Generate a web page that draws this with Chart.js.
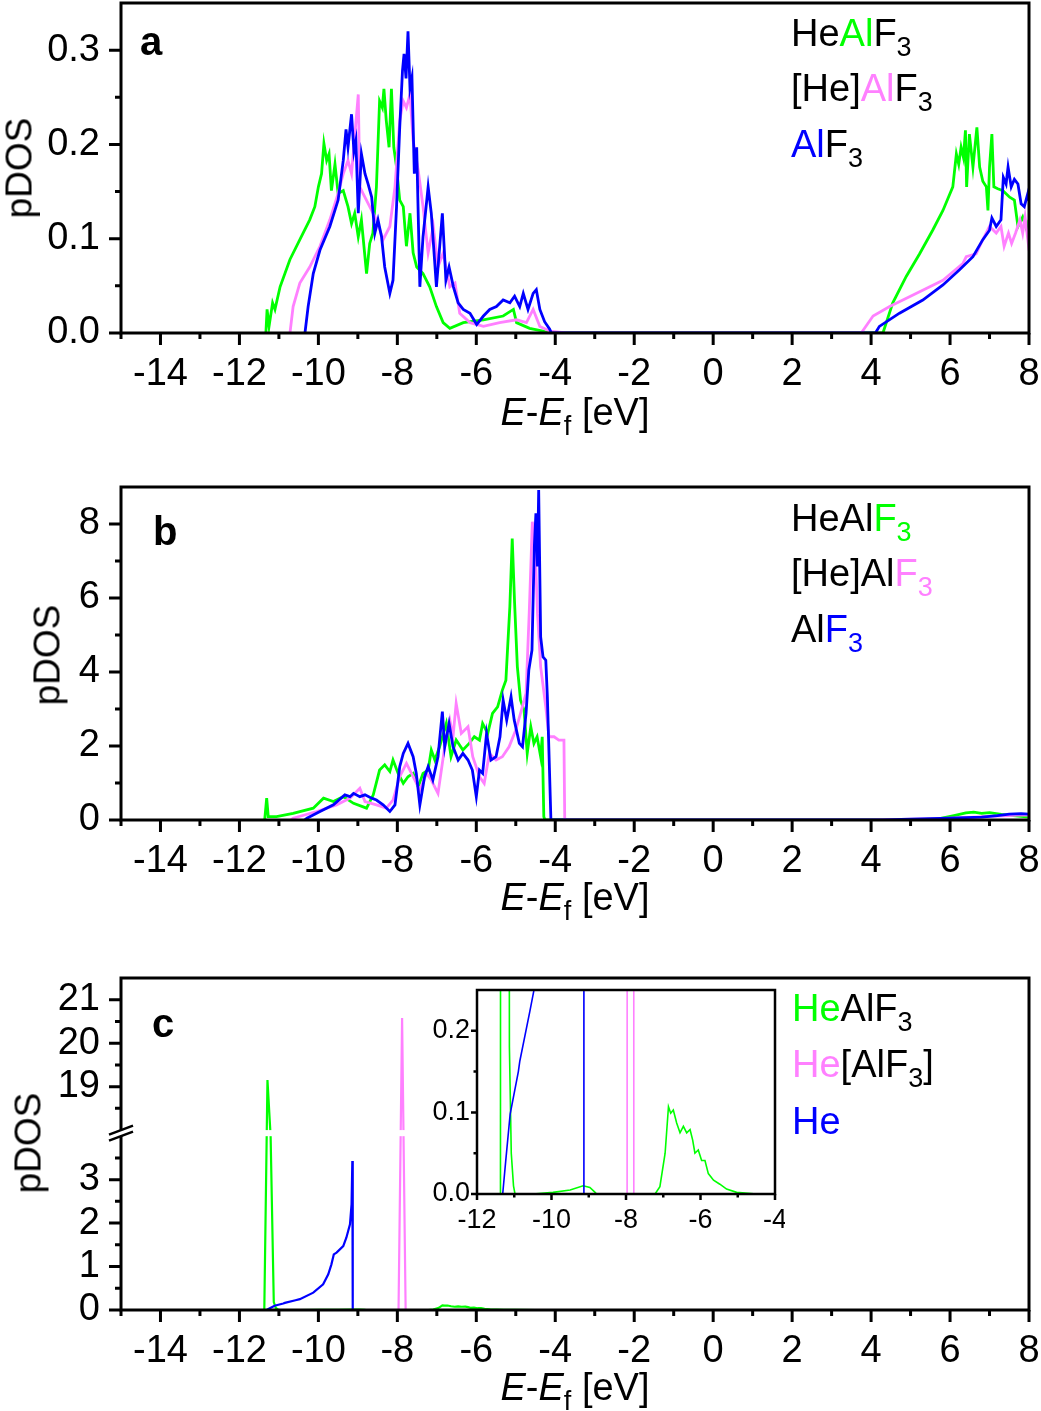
<!DOCTYPE html>
<html>
<head>
<meta charset="utf-8">
<script src="https://cdn.jsdelivr.net/npm/chart.js@4.4.1/dist/chart.umd.min.js"></script>
<style>
  html, body { margin: 0; padding: 0; background: #fff; }
  body { width: 1041px; height: 1411px; position: relative; overflow: hidden;
         font-family: 'Liberation Sans', Arial, sans-serif; color: #000; }
  canvas { position: absolute; }
  .leg { position: absolute; white-space: nowrap; font-size: 38px; line-height: 38px; }
  .leg sub, .xtitle sub { font-size: 27px; vertical-align: baseline; position: relative; top: 10px; }
  .xtitle { position: absolute; left: 575px; transform: translateX(-50%); white-space: nowrap;
            font-size: 38px; line-height: 38px; }
  .ytitle { position: absolute; white-space: nowrap; font-size: 37px; line-height: 37px;
            transform: translate(-50%, -50%) rotate(-90deg); }
  .letter { position: absolute; font-weight: bold; font-size: 40px; line-height: 40px; }
</style>
</head>
<body>
<canvas id="chart-a" width="1041" height="440" style="left:0;top:0"></canvas>
<canvas id="chart-b" width="1041" height="440" style="left:0;top:485px"></canvas>
<canvas id="chart-c" width="1041" height="436" style="left:0;top:975px"></canvas>
<canvas id="chart-inset" width="365" height="255" style="left:420px;top:985px"></canvas>

<div class="letter" style="left:140px;top:21px">a</div>
<div class="letter" style="left:153px;top:511px">b</div>
<div class="letter" style="left:152px;top:1003px">c</div>

<div class="ytitle" style="left:19px;top:168px">pDOS</div>
<div class="ytitle" style="left:47px;top:655px">pDOS</div>
<div class="ytitle" style="left:28px;top:1143px">pDOS</div>

<div class="xtitle" style="top:393px"><i>E</i>-<i>E</i><sub>f</sub> [eV]</div>
<div class="xtitle" style="top:878px"><i>E</i>-<i>E</i><sub>f</sub> [eV]</div>
<div class="xtitle" style="top:1368px"><i>E</i>-<i>E</i><sub>f</sub> [eV]</div>

<div class="leg" style="left:791px;top:14px">He<span style="color:#00ff00">Al</span>F<sub>3</sub></div>
<div class="leg" style="left:791px;top:69px">[He]<span style="color:#ff80ff">Al</span>F<sub>3</sub></div>
<div class="leg" style="left:791px;top:125px"><span style="color:#0000ff">Al</span>F<sub>3</sub></div>

<div class="leg" style="left:791px;top:499px">HeAl<span style="color:#00ff00">F<sub>3</sub></span></div>
<div class="leg" style="left:791px;top:554px">[He]Al<span style="color:#ff80ff">F<sub>3</sub></span></div>
<div class="leg" style="left:791px;top:610px">Al<span style="color:#0000ff">F<sub>3</sub></span></div>

<div class="leg" style="left:792px;top:989px"><span style="color:#00ff00">He</span>AlF<sub>3</sub></div>
<div class="leg" style="left:792px;top:1045px"><span style="color:#ff80ff">He</span>[AlF<sub>3</sub>]</div>
<div class="leg" style="left:792px;top:1102px"><span style="color:#0000ff">He</span></div>

<script>
// Couleurs des courbes
const green = '#00ff00';
const pink = '#ff80ff';
const blue = '#0000ff';

// Graduations
const xTicks = [-14, -12, -10, -8, -6, -4, -2, 0, 2, 4, 6, 8];
const xMinor = [-15, -13, -11, -9, -7, -5, -3, -1, 1, 3, 5, 7];
const aYTicks = [0, 0.1, 0.2, 0.3];
const aYLabels = ['0.0', '0.1', '0.2', '0.3'];
const aYMinor = [0.05, 0.15, 0.25];
const bYTicks = [0, 2, 4, 6, 8];
const bYLabels = ['0', '2', '4', '6', '8'];
const bYMinor = [1, 3, 5, 7];
const cYTicks = [0, 1, 2, 3, 19, 20, 21];
const cYLabels = ['0', '1', '2', '3', '19', '20', '21'];
const cYMinor = [0.5, 1.5, 2.5, 3.5, 18.5, 19.5, 20.5];
const insetXTicks = [-12, -10, -8, -6, -4];
const insetXMinor = [-11, -9, -7, -5];
const insetYTicks = [0, 0.1, 0.2];
const insetYLabels = ['0.0', '0.1', '0.2'];
const insetYMinor = [0.05, 0.15];

// Panneau a : pDOS de Al
const aGreenX = [-11.33, -11.30, -11.25, -11.16, -11.10, -10.97, -10.72, -10.47, -10.22, -10.09, -10.00, -9.92, -9.86, -9.79, -9.73, -9.67, -9.58, -9.50, -9.37, -9.25, -9.16, -9.08, -8.99, -8.91, -8.78, -8.70, -8.62, -8.53, -8.45, -8.38, -8.34, -8.28, -8.21, -8.15, -8.09, -8.02, -7.94, -7.85, -7.77, -7.68, -7.60, -7.51, -7.35, -7.18, -7.01, -6.84, -6.67, -6.33, -5.82, -5.32, -5.06, -4.98, -4.65, -4.31, -4.14, 4.30, 4.55, 4.89, 5.23, 5.56, 5.82, 6.07, 6.16, 6.22, 6.28, 6.34, 6.39, 6.42, 6.49, 6.58, 6.68, 6.75, 6.83, 6.92, 6.96, 7.00, 7.06, 7.11, 7.21, 7.34, 7.51, 7.63, 7.72, 7.84, 7.97, 8.0];
const aGreenY = [0, 0.025, 0.007, 0.032, 0.025, 0.049, 0.078, 0.099, 0.120, 0.134, 0.155, 0.169, 0.201, 0.183, 0.190, 0.151, 0.179, 0.148, 0.151, 0.134, 0.116, 0.127, 0.102, 0.120, 0.063, 0.095, 0.106, 0.155, 0.246, 0.239, 0.259, 0.225, 0.197, 0.259, 0.197, 0.176, 0.141, 0.134, 0.092, 0.127, 0.085, 0.070, 0.063, 0.049, 0.028, 0.011, 0.005, 0.011, 0.014, 0.018, 0.025, 0.011, 0.005, 0.002, 0, 0, 0.032, 0.060, 0.084, 0.109, 0.130, 0.155, 0.190, 0.179, 0.197, 0.186, 0.215, 0.155, 0.211, 0.176, 0.218, 0.176, 0.161, 0.155, 0.130, 0.176, 0.211, 0.155, 0.153, 0.151, 0.144, 0.141, 0.113, 0.123, 0.106, 0.120];
const aPinkX = [-10.72, -10.64, -10.47, -10.22, -9.96, -9.71, -9.50, -9.37, -9.25, -9.16, -9.08, -8.99, -8.95, -8.87, -8.70, -8.53, -8.36, -8.19, -8.06, -7.94, -7.85, -7.77, -7.68, -7.60, -7.47, -7.35, -7.22, -7.09, -6.97, -6.84, -6.67, -6.54, -6.42, -6.16, -5.82, -5.41, -4.98, -4.73, -4.56, -4.39, -4.14, -3.72, 3.75, 4.05, 4.47, 5.14, 5.82, 6.33, 6.41, 6.66, 6.83, 7.00, 7.17, 7.29, 7.37, 7.48, 7.56, 7.66, 7.77, 7.84, 7.90, 7.97, 8.0];
const aPinkY = [0, 0.028, 0.053, 0.070, 0.092, 0.120, 0.148, 0.169, 0.183, 0.169, 0.208, 0.253, 0.155, 0.148, 0.134, 0.120, 0.099, 0.113, 0.155, 0.225, 0.246, 0.239, 0.253, 0.204, 0.172, 0.134, 0.085, 0.113, 0.070, 0.085, 0.049, 0.053, 0.021, 0.011, 0.007, 0.011, 0.014, 0.011, 0.025, 0.007, 0.002, 0, 0, 0.018, 0.028, 0.042, 0.056, 0.074, 0.081, 0.084, 0.099, 0.113, 0.106, 0.113, 0.092, 0.106, 0.095, 0.106, 0.120, 0.106, 0.123, 0.099, 0.110];
const aBlueX = [-10.34, -10.26, -10.13, -9.96, -9.71, -9.50, -9.37, -9.30, -9.25, -9.16, -9.10, -9.05, -8.99, -8.91, -8.82, -8.74, -8.65, -8.57, -8.49, -8.40, -8.32, -8.19, -8.11, -8.02, -7.94, -7.87, -7.83, -7.78, -7.73, -7.68, -7.63, -7.57, -7.51, -7.43, -7.35, -7.22, -7.14, -7.01, -6.86, -6.77, -6.69, -6.58, -6.46, -6.33, -6.16, -5.99, -5.82, -5.66, -5.49, -5.32, -5.15, -5.03, -4.90, -4.81, -4.69, -4.56, -4.48, -4.39, -4.27, -4.14, -4.10, 4.11, 4.21, 4.72, 5.31, 5.82, 6.24, 6.58, 6.83, 7.00, 7.06, 7.17, 7.29, 7.35, 7.42, 7.47, 7.55, 7.63, 7.72, 7.80, 7.88, 7.97, 8.0];
const aBlueY = [0, 0.028, 0.063, 0.088, 0.113, 0.141, 0.183, 0.216, 0.197, 0.232, 0.193, 0.204, 0.127, 0.190, 0.169, 0.158, 0.144, 0.106, 0.120, 0.102, 0.070, 0.042, 0.056, 0.134, 0.218, 0.278, 0.296, 0.270, 0.320, 0.260, 0.271, 0.169, 0.197, 0.049, 0.102, 0.155, 0.127, 0.049, 0.127, 0.056, 0.070, 0.049, 0.032, 0.025, 0.021, 0.009, 0.018, 0.025, 0.028, 0.035, 0.032, 0.039, 0.028, 0.042, 0.025, 0.042, 0.046, 0.025, 0.012, 0.004, 0, 0, 0.007, 0.021, 0.035, 0.051, 0.067, 0.081, 0.099, 0.109, 0.122, 0.113, 0.120, 0.165, 0.158, 0.176, 0.155, 0.163, 0.158, 0.137, 0.134, 0.148, 0.140];

// Panneau b : pDOS de F
const bGreenX = [-11.36, -11.31, -11.27, -11.06, -10.64, -10.13, -9.87, -9.62, -9.37, -9.11, -8.78, -8.61, -8.45, -8.32, -8.19, -8.11, -7.98, -7.85, -7.73, -7.60, -7.47, -7.35, -7.22, -7.14, -7.05, -6.93, -6.76, -6.64, -6.51, -6.34, -6.18, -6.05, -5.92, -5.84, -5.71, -5.59, -5.46, -5.34, -5.25, -5.21, -5.15, -5.09, -5.03, -4.96, -4.88, -4.79, -4.71, -4.62, -4.54, -4.46, -4.37, -4.33, -4.29, -4.26, 5.00, 5.70, 6.10, 6.40, 6.60, 6.80, 7.00, 7.30, 7.60, 8.00];
const bGreenY = [0, 0.59, 0.09, 0.09, 0.18, 0.32, 0.59, 0.50, 0.63, 0.45, 0.32, 0.68, 1.35, 1.49, 1.31, 1.62, 1.26, 0.99, 1.17, 1.26, 0.90, 1.26, 1.35, 1.89, 1.62, 1.98, 2.61, 1.71, 2.16, 1.89, 2.07, 2.25, 2.16, 2.61, 2.34, 2.88, 3.06, 3.51, 3.78, 4.59, 5.77, 7.61, 5.86, 4.14, 3.24, 2.97, 1.80, 2.52, 2.07, 2.25, 1.71, 2.25, 0.09, 0, 0, 0.03, 0.12, 0.19, 0.21, 0.18, 0.20, 0.15, 0.12, 0.08];
const bPinkX = [-10.70, -10.64, -10.04, -9.54, -9.20, -8.95, -8.82, -8.53, -8.28, -8.11, -7.94, -7.77, -7.60, -7.43, -7.26, -7.14, -6.97, -6.80, -6.67, -6.59, -6.51, -6.38, -6.21, -6.09, -5.92, -5.80, -5.67, -5.50, -5.34, -5.17, -5.00, -4.88, -4.74, -4.66, -4.58, -4.51, -4.45, -4.37, -4.24, -4.16, -4.03, -3.91, -3.78, -3.76, 4.00, 5.50, 6.50, 7.00, 7.50, 7.80, 8.00];
const bPinkY = [0, 0.05, 0.23, 0.41, 0.59, 0.86, 0.50, 0.41, 0.32, 0.54, 1.17, 1.53, 1.17, 0.81, 1.26, 1.08, 0.72, 1.98, 2.70, 2.25, 3.15, 2.34, 2.52, 1.71, 1.17, 0.99, 1.80, 1.62, 1.71, 1.98, 2.43, 2.88, 3.42, 5.59, 8.06, 7.39, 5.59, 4.14, 3.06, 2.25, 2.25, 2.16, 2.16, 0, 0, 0.03, 0.07, 0.10, 0.12, 0.14, 0.13];
const bBlueX = [-10.35, -10.29, -9.96, -9.62, -9.33, -9.20, -9.11, -8.95, -8.82, -8.65, -8.53, -8.36, -8.19, -8.06, -7.94, -7.85, -7.73, -7.60, -7.52, -7.43, -7.31, -7.22, -7.10, -6.97, -6.86, -6.80, -6.69, -6.59, -6.46, -6.34, -6.21, -6.10, -6.00, -5.92, -5.84, -5.74, -5.63, -5.50, -5.40, -5.32, -5.23, -5.12, -5.04, -4.91, -4.83, -4.74, -4.67, -4.59, -4.53, -4.49, -4.45, -4.42, -4.37, -4.31, -4.24, -4.20, -4.11, 4.30, 5.00, 6.00, 6.80, 7.20, 7.50, 7.80, 8.00];
const bBlueY = [0, 0.05, 0.23, 0.41, 0.68, 0.63, 0.72, 0.63, 0.68, 0.59, 0.54, 0.41, 0.23, 0.41, 1.44, 1.80, 2.07, 1.71, 1.26, 0.41, 1.17, 1.44, 1.08, 1.71, 2.93, 1.98, 2.61, 1.98, 1.62, 1.80, 1.62, 1.35, 0.63, 1.35, 1.26, 2.34, 1.62, 1.71, 2.25, 3.24, 2.70, 3.33, 2.70, 2.07, 1.98, 2.88, 4.05, 4.59, 7.39, 8.29, 6.85, 8.92, 4.95, 4.41, 4.32, 3.33, 0, 0, 0.02, 0.05, 0.08, 0.12, 0.16, 0.17, 0.16];

// Panneau c : pDOS de He
const cGreenX = [-11.37, -11.29, -11.21, -11.13, -11.08, -11.02, -10.98, -10.49, -9.96, -9.50, -9.15, -8.97, -8.83, -8.79, -7.22, -7.09, -6.95, -6.86, -6.80, -6.73, -6.64, -6.55, -6.46, -6.37, -6.28, -6.21, -6.15, -6.06, -5.97, -5.88, -5.79, -5.65, -5.48, -5.30, -5.03, -4.49, 8.00];
const cGreenY = [0, 19.15, 4.0, 0.18, 0.05, 0.01, 0, 0, 0.002, 0.005, 0.010, 0.008, 0.002, 0, 0, 0.009, 0.050, 0.107, 0.099, 0.103, 0.087, 0.075, 0.083, 0.075, 0.079, 0.066, 0.050, 0.054, 0.041, 0.041, 0.025, 0.017, 0.012, 0.006, 0.002, 0, 0];
const cPinkX = [-7.97, -7.88, -7.79];
const cPinkY = [0, 20.58, 0];
const cBlueX = [-11.31, -11.23, -11.11, -10.89, -10.85, -10.58, -10.47, -10.13, -9.88, -9.75, -9.67, -9.61, -9.54, -9.37, -9.29, -9.20, -9.16, -9.14, -9.13];
const cBlueY = [0, 0.04, 0.098, 0.15, 0.163, 0.224, 0.25, 0.40, 0.59, 0.82, 1.05, 1.28, 1.32, 1.47, 1.67, 1.97, 2.43, 3.43, 0];

// Axe coupé du panneau c : 0-4 puis 18-21.5
const breakLow = 4;
const breakHigh = 18;
const breakGap = 0.14;
function brk(v) {
    if (v <= breakLow) return v;
    if (v >= breakHigh) return v - breakHigh + breakLow + breakGap;
    return breakLow + (v - breakLow) / (breakHigh - breakLow) * breakGap;
}

Chart.defaults.font.family = "'Liberation Sans', Arial, sans-serif";
Chart.defaults.color = '#000';

// Construction d'une courbe à partir des tableaux x / y
function curve(xs, ys, color, width, map) {
    return {
        data: xs.map((x, i) => ({ x: x, y: map ? map(ys[i]) : ys[i] })),
        borderColor: color,
        borderWidth: width,
        pointRadius: 0,
        tension: 0,
        fill: false
    };
}

// Cadre, graduations vers l'extérieur et marque de coupure
function frame(o) {
    return {
        id: 'frame',
        afterDraw(chart) {
            const ctx = chart.ctx;
            const a = chart.chartArea;
            const x = chart.scales.x;
            const y = chart.scales.y;
            ctx.save();
            if (o.brk) {
                const yLo = y.getPixelForValue(breakLow);
                const yHi = y.getPixelForValue(breakLow + breakGap);
                ctx.fillStyle = '#fff';
                ctx.fillRect(a.left, yHi, a.right - a.left, yLo - yHi);
            }
            ctx.strokeStyle = '#000';
            ctx.lineWidth = o.width;
            ctx.beginPath();
            o.xMajor.forEach(v => { const p = x.getPixelForValue(v); ctx.moveTo(p, a.bottom); ctx.lineTo(p, a.bottom + o.major); });
            o.xMinor.forEach(v => { const p = x.getPixelForValue(v); ctx.moveTo(p, a.bottom); ctx.lineTo(p, a.bottom + o.minor); });
            o.yMajor.forEach(v => { const p = y.getPixelForValue(v); ctx.moveTo(a.left, p); ctx.lineTo(a.left - o.major, p); });
            o.yMinor.forEach(v => { const p = y.getPixelForValue(v); ctx.moveTo(a.left, p); ctx.lineTo(a.left - o.minor, p); });
            ctx.stroke();
            ctx.strokeRect(a.left, a.top, a.right - a.left, a.bottom - a.top);
            if (o.brk) {
                const yLo = y.getPixelForValue(breakLow);
                const yHi = y.getPixelForValue(breakLow + breakGap);
                const dx = 12, dy = 4.5;
                ctx.fillStyle = '#fff';
                ctx.beginPath();
                ctx.moveTo(a.left - dx, yHi + dy);
                ctx.lineTo(a.left + dx, yHi - dy);
                ctx.lineTo(a.left + dx, yLo - dy);
                ctx.lineTo(a.left - dx, yLo + dy);
                ctx.closePath();
                ctx.fill();
                ctx.beginPath();
                ctx.moveTo(a.left - dx, yHi + dy);
                ctx.lineTo(a.left + dx, yHi - dy);
                ctx.moveTo(a.left - dx, yLo + dy);
                ctx.lineTo(a.left + dx, yLo - dy);
                ctx.lineWidth = 2.5;
                ctx.stroke();
            }
            ctx.restore();
        }
    };
}

// Création d'un panneau
function panel(id, datasets, o) {
    return new Chart(document.getElementById(id), {
        type: 'line',
        data: { datasets: datasets },
        options: {
            responsive: false,
            animation: false,
            events: [],
            layout: { padding: { top: o.padTop, right: o.padRight, left: 0, bottom: 0 } },
            plugins: { legend: { display: false }, tooltip: { enabled: false } },
            scales: {
                x: {
                    type: 'linear',
                    min: o.xMin,
                    max: o.xMax,
                    grid: { display: false, drawTicks: false },
                    border: { display: false },
                    afterBuildTicks: s => { s.ticks = o.xTicks.map(v => ({ value: v })); },
                    afterFit: s => { s.height = o.xHeight; s.paddingLeft = 0; s.paddingRight = 0; },
                    ticks: {
                        autoSkip: false, maxRotation: 0, padding: o.xPad, color: '#000',
                        font: { size: o.font },
                        callback: v => String(v)
                    }
                },
                y: {
                    type: 'linear',
                    min: o.yMin,
                    max: o.yMax,
                    grid: { display: false, drawTicks: false },
                    border: { display: false },
                    afterBuildTicks: s => { s.ticks = o.yTicks.map(v => ({ value: v })); },
                    afterFit: s => { s.width = o.yWidth; s.paddingTop = 0; s.paddingBottom = 0; },
                    ticks: {
                        autoSkip: false, padding: o.yPad, color: '#000',
                        font: { size: o.font },
                        callback: (v, i) => o.yLabels[i]
                    }
                }
            }
        },
        plugins: [frame({
            width: o.frameWidth, major: o.major, minor: o.minor,
            xMajor: o.xTicks, xMinor: o.xMinor, yMajor: o.yTicks, yMinor: o.yMinor, brk: o.brk
        })]
    });
}

const mainOpts = {
    xMin: -15, xMax: 8, xTicks: xTicks, xMinor: xMinor,
    padRight: 12, yWidth: 121, xPad: 19, yPad: 21, font: 38,
    frameWidth: 3, major: 12, minor: 6
};

panel('chart-a', [
    curve(aBlueX, aBlueY, blue, 2.8),
    curve(aPinkX, aPinkY, pink, 2.8),
    curve(aGreenX, aGreenY, green, 2.8)
], Object.assign({}, mainOpts, {
    padTop: 3, xHeight: 107, yMin: 0, yMax: 0.35,
    yTicks: aYTicks, yLabels: aYLabels, yMinor: aYMinor
}));

panel('chart-b', [
    curve(bBlueX, bBlueY, blue, 2.8),
    curve(bPinkX, bPinkY, pink, 2.8),
    curve(bGreenX, bGreenY, green, 2.8)
], Object.assign({}, mainOpts, {
    padTop: 2, xHeight: 105, yMin: 0, yMax: 9,
    yTicks: bYTicks, yLabels: bYLabels, yMinor: bYMinor
}));

panel('chart-c', [
    curve(cBlueX, cBlueY, blue, 2.2, brk),
    curve(cPinkX, cPinkY, pink, 2.2, brk),
    curve(cGreenX, cGreenY, green, 2.2, brk)
], Object.assign({}, mainOpts, {
    padTop: 3, xHeight: 101, yMin: 0, yMax: brk(21.5),
    yTicks: cYTicks.map(brk), yLabels: cYLabels, yMinor: cYMinor.map(brk), brk: true
}));

// Encart : zoom sur le bas du panneau c
panel('chart-inset', [
    curve(cBlueX, cBlueY, blue, 1.6),
    curve(cPinkX, cPinkY, pink, 1.6),
    curve(cGreenX, cGreenY, green, 1.6)
], {
    xMin: -12, xMax: -4, xTicks: insetXTicks, xMinor: insetXMinor,
    padTop: 5, padRight: 10, yWidth: 57, xHeight: 46, xPad: 10, yPad: 7, font: 27,
    frameWidth: 2.5, major: 6, minor: 3.5,
    yMin: 0, yMax: 0.25, yTicks: insetYTicks, yLabels: insetYLabels, yMinor: insetYMinor
});
</script>
</body>
</html>
